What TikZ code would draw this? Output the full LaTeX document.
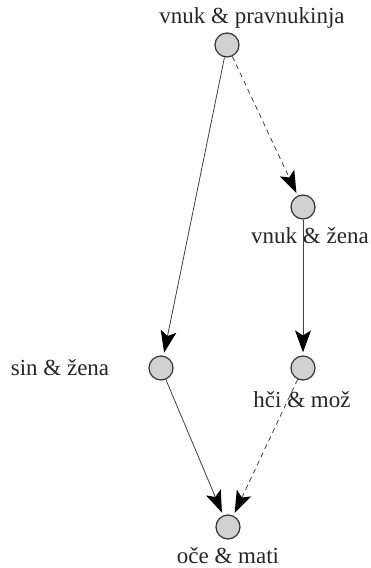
\documentclass[tikz,border=0pt]{standalone}
\usepackage{fontspec}
\setmainfont{Liberation Serif}
\usetikzlibrary{arrows.meta}
\begin{document}
\begin{tikzpicture}[x=1pt,y=-1pt,
  pnode/.style={circle,draw=black!80,line width=1.2pt,fill=black!18,minimum size=24pt,inner sep=0pt},
  lbl/.style={font=\fontsize{23}{26}\selectfont,text=black!85,inner sep=0pt},
  tip/.tip={Stealth[length=22pt,width=16pt,inset=5pt,line width=0pt,black]},
  conn/.style={draw=black!75,line width=0.8pt,-tip,shorten >=3pt},
  dconn/.style={conn,dashed,dash pattern=on 5pt off 4pt}]
\useasboundingbox (0,0) rectangle (371,568);
\node[pnode] (a) at (227,45) {};
\node[pnode] (b) at (303,207) {};
\node[pnode] (c) at (161,368) {};
\node[pnode] (d) at (303,368) {};
\node[pnode] (e) at (228,527) {};
\node[lbl] (la) at (252,18) {vnuk \& pravnukinja};
\node[lbl] (lb) at (310,236) {vnuk \& žena};
\node[lbl] (lc) at (60,368) {sin \& žena};
\node[lbl] (ld) at (302,400) {hči \& mož};
\node[lbl] (le) at (228,556) {oče \& mati};
\draw[conn] (a) -- (c);
\draw[dconn] (a) -- (b);
\draw[conn] (b) -- (d);
\draw[conn] (c) -- (e);
\draw[dconn] (d) -- (e);
\end{tikzpicture}
\end{document}
